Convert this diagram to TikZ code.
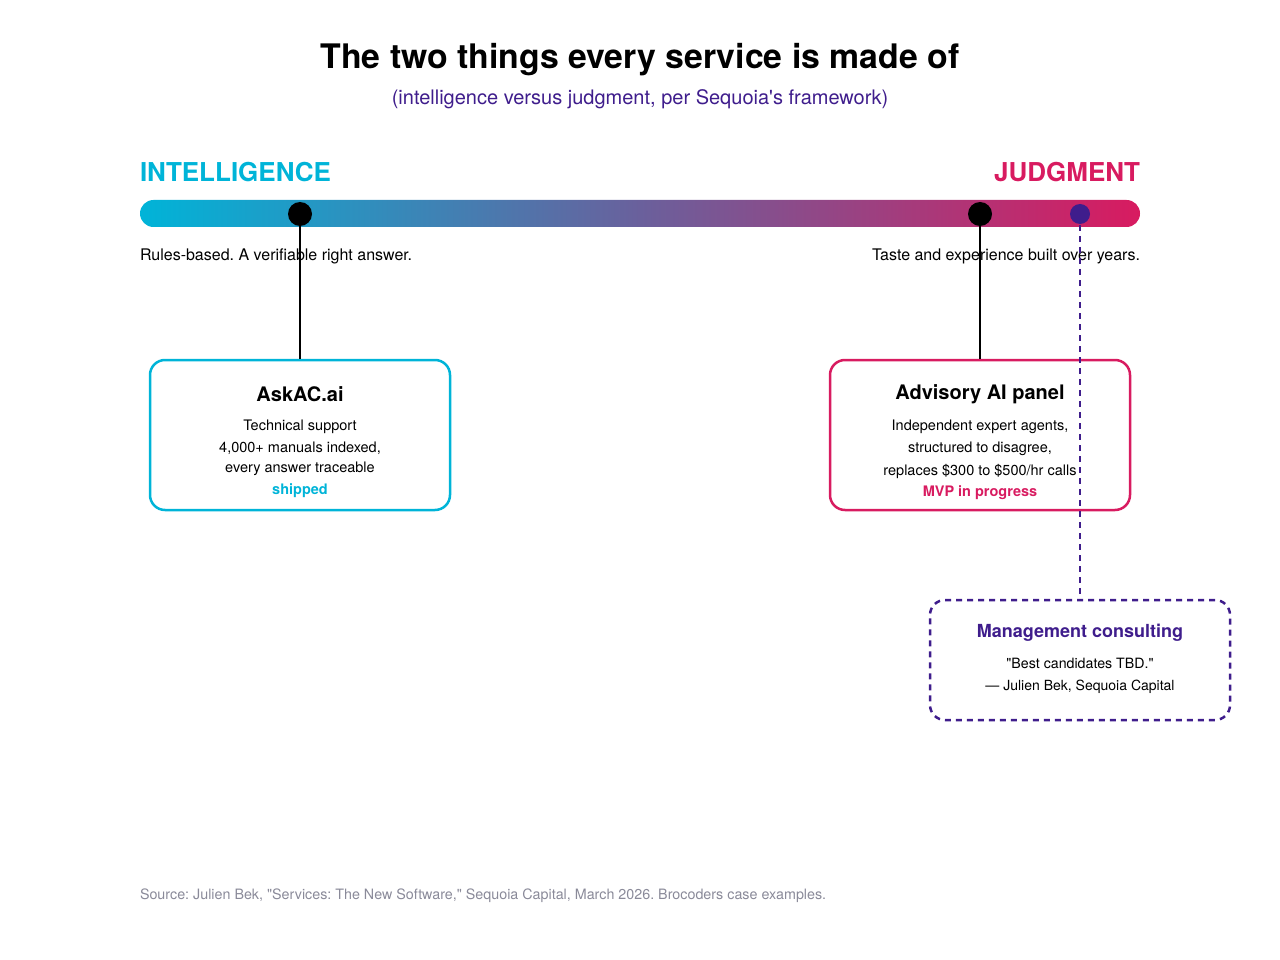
\documentclass[tikz,border=0pt]{standalone}
\usepackage{fontspec}
\setmainfont{TeX Gyre Heros}
\frenchspacing
\definecolor{cyanc}{HTML}{00B4D8}
\definecolor{pinkc}{HTML}{D81B60}
\definecolor{midc}{HTML}{6A609C}
\definecolor{purp}{HTML}{3F1D8C}
\definecolor{srcgray}{HTML}{8A8A99}
\newcommand{\dq}{\textquotedbl}
\newcommand{\sq}{\textquotesingle}
\tikzset{
  pt/.style={inner sep=0pt, outer sep=0pt},
  card/.style={draw, line width=2.5pt, rounded corners=15pt, minimum width=300pt, minimum height=150pt, inner sep=0pt},
  cardtitle/.style={pt, font=\bfseries\fontsize{20}{24}\selectfont},
  cardline/.style={pt, font=\fontsize{14.5}{17}\selectfont},
  cardstatus/.style={pt, font=\bfseries\fontsize{14.5}{17}\selectfont},
  dotnode/.style={circle, fill, inner sep=0pt, minimum size=24pt},
}
\begin{document}
\begin{tikzpicture}[x=1pt,y=-1pt]
\useasboundingbox (0,0) rectangle (1280,960);
% title
\node[pt, font=\bfseries\fontsize{33.8}{38}\selectfont] (title) at (640,60) {The two things every service is made of};
\node[pt, text=purp, font=\fontsize{20}{23}\selectfont] (subtitle) at (640,99) {(intelligence versus judgment, per Sequoia\sq s framework)};
% axis labels
\node[pt, anchor=west, text=cyanc, font=\bfseries\fontsize{26}{30}\selectfont] (intl) at (140,172) {INTELLIGENCE};
\node[pt, anchor=east, text=pinkc, font=\bfseries\fontsize{26}{30}\selectfont] (judg) at (1140,172) {JUDGMENT};
% bar
\shade[left color=cyanc, right color=pinkc, middle color=midc, rounded corners=13.5pt] (140,200) rectangle (1140,227);
% captions
\node[pt, anchor=west, font=\fontsize{16}{19}\selectfont] (capl) at (140,256) {Rules-based. A verifiable right answer.};
\node[pt, anchor=east, font=\fontsize{16}{19}\selectfont] (capr) at (1140,256) {Taste and experience built over years.};
% boxes
\node[card, draw=cyanc] (b1) at (300,435) {};
\node[card, draw=pinkc] (b2) at (980,435) {};
\node[card, draw=purp, dashed, dash pattern=on 6pt off 5pt] (b3) at (1080,660) [minimum height=120pt] {};
% box 1 texts
\node[cardtitle] (b1t) at (300,394) {AskAC.ai};
\node[cardline] (b1a) at (300,427) {Technical support};
\node[cardline] (b1b) at (300,448) {4,000+ manuals indexed,};
\node[cardline] (b1c) at (300,469) {every answer traceable};
\node[cardstatus, text=cyanc] (b1s) at (300,491) {shipped};
% box 2 texts
\node[cardtitle] (b2t) at (980,394) {Advisory AI panel};
\node[cardline] (b2a) at (980,427) {Independent expert agents,};
\node[cardline] (b2b) at (980,449) {structured to disagree,};
\node[cardline] (b2c) at (980,471) {replaces \$300 to \$500/hr calls};
\node[cardstatus, text=pinkc] (b2s) at (980,493) {MVP in progress};
% box 3 texts
\node[pt, text=purp, font=\bfseries\fontsize{18}{21}\selectfont] (b3t) at (1080,633) {Management consulting};
\node[pt, font=\fontsize{14.2}{17}\selectfont] (b3a) at (1080,663) {\dq Best candidates TBD.\dq};
\node[pt, font=\fontsize{14}{17}\selectfont] (b3b) at (1080,687) {— Julien Bek, Sequoia Capital};
% dots
\coordinate (p1) at (300,214);
\coordinate (p2) at (980,214);
\coordinate (p3) at (1080,214);
\draw[line width=2pt] (p1) -- (b1.north);
\draw[line width=2pt] (p2) -- (b2.north);
\draw[purp, line width=2pt, dash pattern=on 6pt off 5pt] (p3) -- (b3.north);
\node[dotnode, fill=black] (d1) at (p1) {};
\node[dotnode, fill=black] (d2) at (p2) {};
\node[dotnode, fill=purp, minimum size=20pt] (d3) at (p3) {};
% source
\node[pt, anchor=west, text=srcgray, font=\fontsize{14.3}{17}\selectfont] (src) at (140,896) {Source: Julien Bek, \dq Services: The New Software,\dq{} Sequoia Capital, March 2026. Brocoders case examples.};
\end{tikzpicture}
\end{document}
